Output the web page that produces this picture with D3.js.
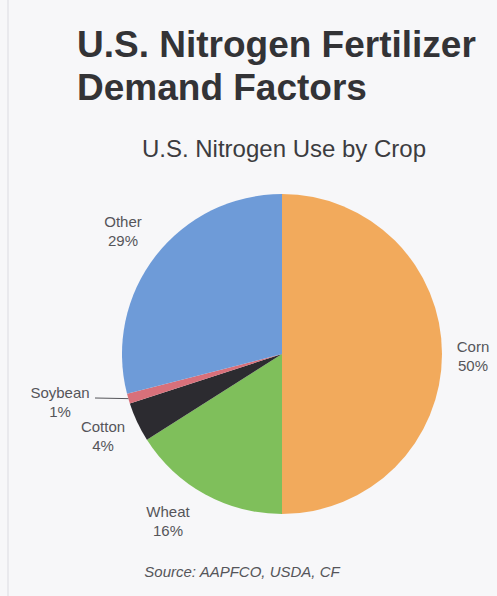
<!DOCTYPE html>
<html><head><meta charset="utf-8">
<script src="https://cdn.jsdelivr.net/npm/d3@7/dist/d3.min.js"></script>
<style>
html,body{margin:0;padding:0;background:#f7f7f9;}
svg{display:block;}
text{font-family:"Liberation Sans",Arial,sans-serif;}
</style></head>
<body>
<script>
const crops = ["Corn", "Wheat", "Cotton", "Soybean", "Other"];
const shares = [50, 16, 4, 1, 29];
const colors = ["#f2aa5c", "#7fbf5b", "#2c2b30", "#d8707a", "#6e9bd8"];
const titleLines = ["U.S. Nitrogen Fertilizer", "Demand Factors"];
const subtitle = "U.S. Nitrogen Use by Crop";
const source = "Source: AAPFCO, USDA, CF";

const W = 497, H = 596;
const svg = d3.select("body").append("svg").attr("width", W).attr("height", H);
svg.append("rect").attr("width", W).attr("height", H).attr("fill", "#f7f7f9");
svg.append("line").attr("x1", 8).attr("x2", 8).attr("y1", 0).attr("y2", H)
  .attr("stroke", "#e4e4e8").attr("stroke-width", 1.5);

svg.selectAll("text.title").data(titleLines).join("text")
  .attr("class", "title")
  .attr("x", 77).attr("y", (d, i) => 57 + i * 43)
  .attr("font-size", 37).attr("font-weight", "bold").attr("fill", "#333336")
  .text(d => d);

svg.append("text").attr("x", 284).attr("y", 157).attr("text-anchor", "middle")
  .attr("font-size", 24).attr("fill", "#3c3c40").text(subtitle);

const cx = 282, cy = 354, R = 160;
const data = crops.map((c, i) => ({crop: c, value: shares[i], color: colors[i]}));
const pie = d3.pie().sort(null).value(d => d.value);
const arc = d3.arc().innerRadius(0).outerRadius(R);
const arcs = pie(data);

const g = svg.append("g").attr("transform", `translate(${cx},${cy})`);
g.selectAll("path").data(arcs).join("path")
  .attr("d", arc).attr("fill", d => d.data.color);

// label positions (offsets relative to pie center, baseline of first line)
const labelPos = {
  Corn: [191, -2],
  Wheat: [-114, 163],
  Cotton: [-179, 78],
  Soybean: [-222, 44],
  Other: [-159, -127]
};
const lab = g.selectAll("g.lab").data(arcs).join("g").attr("class", "lab")
  .attr("transform", d => `translate(${labelPos[d.data.crop][0]},${labelPos[d.data.crop][1]})`);
lab.append("text").attr("text-anchor", "middle").attr("font-size", 15).attr("fill", "#55555a")
  .text(d => d.data.crop);
lab.append("text").attr("text-anchor", "middle").attr("y", 19).attr("font-size", 15).attr("fill", "#55555a")
  .text(d => d.data.value + "%");

// leader line for Soybean
const soy = arcs[3];
const mid = (soy.startAngle + soy.endAngle) / 2;
g.append("line")
  .attr("x1", -187).attr("y1", 44)
  .attr("x2", Math.sin(mid) * R).attr("y2", -Math.cos(mid) * R)
  .attr("stroke", "#55555a").attr("stroke-width", 1);

svg.append("text").attr("x", 242).attr("y", 577).attr("text-anchor", "middle")
  .attr("font-size", 15).attr("font-style", "italic").attr("fill", "#55555a")
  .text(source);
</script>
</body></html>
